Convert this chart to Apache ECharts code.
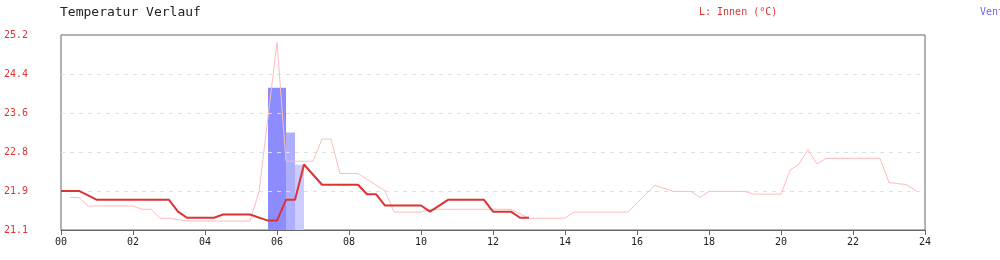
<!DOCTYPE html>
<html>
<head>
<meta charset="utf-8">
<script src="https://cdn.jsdelivr.net/npm/echarts@6/dist/echarts.min.js"></script>
<style>
html,body{margin:0;padding:0;background:#fff;}
#chart{width:1000px;height:260px;}
</style>
</head>
<body>
<div id="chart"></div>
<script>
// ---- data ----
var yTicks = ['21.1', '21.9', '22.8', '23.6', '24.4', '25.2'];

// Innen (°C), current day: [hour, value]
var innenHours = [0, 0.5, 1, 3, 3.25, 3.5, 4.25, 4.5, 5.25, 5.75, 6, 6.25, 6.5, 6.75, 7.25, 8.25, 8.5, 8.75, 9, 10, 10.25, 10.75, 11.75, 12, 12.5, 12.75, 13];
var innenValues = [21.93, 21.93, 21.74, 21.74, 21.49, 21.36, 21.36, 21.43, 21.43, 21.30, 21.30, 21.74, 21.74, 22.49, 22.06, 22.06, 21.86, 21.86, 21.62, 21.62, 21.49, 21.74, 21.74, 21.49, 21.49, 21.36, 21.36];

// Innen, previous day (light line)
var vortagHours = [0.25, 0.5, 0.75, 2, 2.25, 2.5, 2.75, 3, 3.5, 5.25, 5.5, 6, 6.25, 7, 7.25, 7.5, 7.75, 8.25, 9, 9.25, 10, 10.25, 12.5, 13, 14, 14.25, 15.75, 16.5, 17, 17.5, 17.75, 18, 19, 19.25, 20, 20.25, 20.5, 20.75, 21, 21.25, 22.75, 23, 23.5, 23.75];
var vortagValues = [21.79, 21.79, 21.61, 21.61, 21.54, 21.54, 21.35, 21.35, 21.29, 21.29, 21.91, 25.08, 22.56, 22.56, 23.03, 23.03, 22.30, 22.30, 21.93, 21.48, 21.48, 21.54, 21.54, 21.35, 21.35, 21.48, 21.48, 22.05, 21.92, 21.92, 21.79, 21.92, 21.92, 21.86, 21.86, 22.37, 22.50, 22.81, 22.50, 22.62, 22.62, 22.11, 22.06, 21.93];

// Ventilator (%), 15-minute slots
var ventHours = [5.875, 6.125, 6.375, 6.625];
var ventValues = [73, 73, 50, 33.5];

// ---- styles ----
var FONT = 'DejaVu Sans Mono';
var RED = '#dd3333';
var PINK = '#ffbbbb';
var ventColors = ['#8c8cff', '#8c8cff', '#aeaeff', '#ccccff'];

function pairs(xs, ys) { return xs.map(function (x, i) { return [x, ys[i]]; }); }

var chart = echarts.init(document.getElementById('chart'), null, {renderer: 'canvas'});
chart.setOption({
  animation: false,
  backgroundColor: '#fff',
  title: {
    text: 'Temperatur Verlauf', left: 60, top: 6, padding: 0,
    textStyle: {fontFamily: FONT, fontSize: 13, fontWeight: 'normal', color: '#222'}
  },
  legend: [
    {left: 694, top: 5, padding: 0, icon: 'none', itemWidth: 0, itemHeight: 14, selectedMode: false,
     textStyle: {fontFamily: FONT, fontSize: 10},
     data: [{name: 'L: Innen (°C)', textStyle: {color: RED}}]},
    {left: 975, top: 5, padding: 0, icon: 'none', itemWidth: 0, itemHeight: 14, selectedMode: false,
     textStyle: {fontFamily: FONT, fontSize: 10},
     data: [{name: 'Ventilator', textStyle: {color: '#6666ff'}}]}
  ],
  grid: {left: 61, right: 75, top: 35, bottom: 30, show: true, borderColor: '#666', borderWidth: 1, backgroundColor: 'transparent'},
  xAxis: {
    type: 'value', min: 0, max: 24, interval: 2,
    axisLine: {show: true, lineStyle: {color: '#666', width: 1}},
    axisTick: {show: true, length: 5, lineStyle: {color: '#666'}},
    axisLabel: {margin: 7, fontFamily: FONT, fontSize: 10, color: '#222',
      formatter: function (v) { return (v < 10 ? '0' : '') + v; }},
    splitLine: {show: false}
  },
  yAxis: [
    {type: 'value', min: 21.1, max: 25.24, show: false},
    {type: 'category', data: yTicks, boundaryGap: false, position: 'left',
     axisLine: {show: false}, axisTick: {show: false}, splitLine: {show: false},
     axisLabel: {align: 'left', margin: 57, fontFamily: FONT, fontSize: 10, color: RED}},
    {type: 'value', min: 0, max: 100, show: false}
  ],
  series: [
    {
      name: 'Ventilator', type: 'bar', xAxisIndex: 0, yAxisIndex: 2, barWidth: 9, z: 1,
      itemStyle: {color: '#8c8cff'},
      data: ventHours.map(function (h, i) { return {value: [h, ventValues[i]], itemStyle: {color: ventColors[i]}}; })
    },
    {
      name: 'grid', type: 'line', xAxisIndex: 0, yAxisIndex: 1, data: [], z: 2, silent: true,
      markLine: {
        silent: true, symbol: 'none', z: 2, animation: false,
        label: {show: false},
        lineStyle: {color: '#e0e0e0', type: [4, 5], width: 1},
        data: yTicks.slice(1, yTicks.length - 1).map(function (t) { return {yAxis: t}; })
      }
    },
    {
      name: 'Innen Vortag', type: 'line', xAxisIndex: 0, yAxisIndex: 0, z: 3,
      showSymbol: false, symbol: 'none',
      lineStyle: {color: PINK, width: 1}, itemStyle: {color: PINK},
      data: pairs(vortagHours, vortagValues)
    },
    {
      name: 'L: Innen (°C)', type: 'line', xAxisIndex: 0, yAxisIndex: 0, z: 4,
      showSymbol: false, symbol: 'none',
      lineStyle: {color: RED, width: 2}, itemStyle: {color: RED},
      data: pairs(innenHours, innenValues)
    }
  ]
});
</script>
</body>
</html>
